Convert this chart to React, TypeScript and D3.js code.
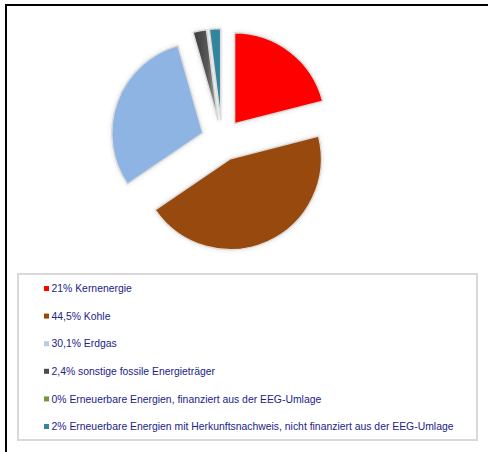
import React from "react";
import * as d3 from "d3";

const labels = [
  "21% Kernenergie",
  "44,5% Kohle",
  "30,1% Erdgas",
  "2,4% sonstige fossile Energieträger",
  "0% Erneuerbare Energien, finanziert aus der EEG-Umlage",
  "2% Erneuerbare Energien mit Herkunftsnachweis, nicht finanziert aus der EEG-Umlage",
];
const values = [21, 44.5, 30.1, 2.4, 0, 2];
const colors = ["#ff0000", "#984807", "#8eb4e3", "#4d4d4d", "#77933c", "#31859c"];
const legendColors = ["#ff0000", "#984807", "#b9cde5", "#4d4d4d", "#77933c", "#31859c"];

const W = 488;
const H = 452;
const cx = 222;
const cy = 140;
const R = 91;
const explode = 20.5;

export default function App() {
  const pie = d3.pie<number>().sort(null).value((d) => d)(values);
  const arc = d3.arc<d3.PieArcDatum<number>>().innerRadius(0).outerRadius(R);

  const legendX = 18;
  const legendY = 274;
  const legendW = 459;
  const legendH = 166;
  const rowY = d3.scaleLinear().domain([0, 5]).range([288.5, 426.5]);

  return (
    <div style={{ position: "absolute", left: 0, top: 0 }}>
      <svg width={W} height={H} style={{ display: "block" }}>
        <defs>
          <linearGradient id="grayGrad" x1="0" y1="0" x2="1" y2="0">
            <stop offset="0%" stopColor="#3a3a3a" />
            <stop offset="60%" stopColor="#5a5a5a" />
            <stop offset="100%" stopColor="#b0b0b0" />
          </linearGradient>
          <filter id="glow" x="-20%" y="-20%" width="140%" height="140%">
            <feGaussianBlur in="SourceAlpha" stdDeviation="2" result="blur" />
            <feFlood floodColor="#000" floodOpacity="0.12" />
            <feComposite in2="blur" operator="in" result="shadow" />
            <feMerge>
              <feMergeNode in="shadow" />
              <feMergeNode in="SourceGraphic" />
            </feMerge>
          </filter>
        </defs>
        <rect x={0} y={0} width={W} height={H} fill="#fff" />
        <line x1={6} y1={5} x2={W} y2={5} stroke="#000" strokeWidth={2} />
        <line x1={6} y1={4} x2={6} y2={H} stroke="#000" strokeWidth={2} />

        <g transform={`translate(${cx},${cy})`}>
          {pie.map((p, i) => {
            if (p.endAngle - p.startAngle <= 0) return null;
            const mid = (p.startAngle + p.endAngle) / 2;
            const dx = Math.sin(mid) * explode;
            const dy = -Math.cos(mid) * explode;
            return (
              <path
                key={i}
                d={arc(p) || ""}
                transform={`translate(${dx},${dy})`}
                fill={i === 3 ? "url(#grayGrad)" : colors[i]}
                stroke="#dcdcdc"
                strokeWidth={1.5}
                strokeLinejoin="round"
                filter="url(#glow)"
              />
            );
          })}
        </g>

        <rect
          x={legendX}
          y={legendY}
          width={legendW}
          height={legendH}
          fill="#fff"
          stroke="#d9d9d9"
          strokeWidth={2}
        />
        {labels.map((l, i) => (
          <g key={i} transform={`translate(0,${rowY(i)})`}>
            <rect x={44} y={-2.5} width={5} height={5} fill={legendColors[i]} />
            <text
              x={51.5}
              y={0}
              dy="0.35em"
              fontFamily="'Liberation Sans', Arial, sans-serif"
              fontSize={10.4}
              fill="#22228a"
            >
              {l}
            </text>
          </g>
        ))}
      </svg>
    </div>
  );
}
